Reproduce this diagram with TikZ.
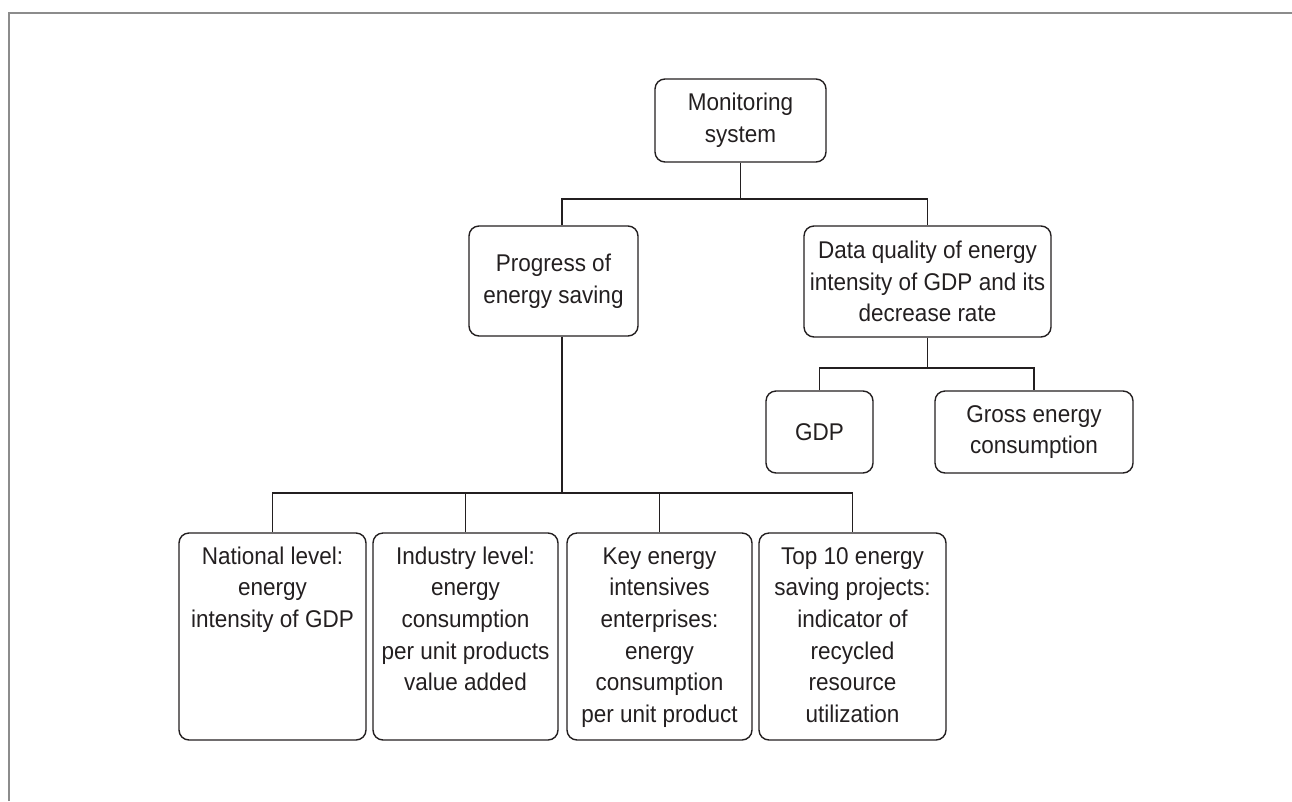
\documentclass[tikz,border=0pt]{standalone}
\usepackage{fontspec}
\setmainfont{Liberation Sans}[FakeStretch=0.93]
\usetikzlibrary{calc}
\definecolor{ink}{HTML}{231F20}
\definecolor{framegray}{HTML}{8C8C8C}
\newcommand\tallcell[1]{\parbox[c][207pt][t]{182pt}{\centering\rule{0pt}{31pt}#1}}
\begin{document}
\begin{tikzpicture}[x=1pt,y=-1pt,
  box/.style={draw=ink, line width=1.4pt, rounded corners=10pt, align=center,
    inner sep=0pt, font=\fontsize{24.2}{31.7}\selectfont, text=ink},
  link/.style={draw=ink, line width=1.4pt}]
\useasboundingbox (0,0) rectangle (1292,801);
\draw[framegray, line width=1.6pt] (9,801) -- (9,13) -- (1292,13);

\node[box, minimum width=171pt, minimum height=83pt] (mon) at (740.5,120.5) {Monitoring\\system};
\node[box, minimum width=169pt, minimum height=110pt] (prog) at (553.5,281) {Progress of\\energy saving};
\node[box, minimum width=247pt, minimum height=111pt] (dq) at (927.5,281.5) {Data quality of energy\\intensity of GDP and its\\decrease rate};
\node[box, minimum width=107pt, minimum height=82pt] (gdp) at (819.5,432) {GDP};
\node[box, minimum width=198pt, minimum height=82pt] (gross) at (1034,432) {Gross energy\\consumption};

\node[box, minimum width=187pt] (b1) at (272.5,636.5) {\tallcell{National level:\\energy\\intensity of GDP}};
\node[box, minimum width=185pt] (b2) at (465.5,636.5) {\tallcell{Industry level:\\energy\\consumption\\per unit products\\value added}};
\node[box, minimum width=185pt] (b3) at (659.5,636.5) {\tallcell{Key energy\\intensives\\enterprises:\\energy\\consumption\\per unit product}};
\node[box, minimum width=187pt] (b4) at (852.5,636.5) {\tallcell{Top 10 energy\\saving projects:\\indicator of\\recycled\\resource\\utilization}};

\coordinate (bar1) at (0,199);
\coordinate (bar2) at (0,493);
\coordinate (bar3) at (0,368);
\coordinate (pt) at ($(prog.north)+(8.5,0)$);
\coordinate (pb) at ($(prog.south)+(8.5,0)$);

\draw[link] (mon.south) -- (mon.south |- bar1);
\draw[link] (pt) -- (pt |- bar1) -- (dq.north |- bar1) -- (dq.north);

\draw[link] (pb) -- (pb |- bar2);
\draw[link] (b1.north) -- (b1.north |- bar2) -- (b4.north |- bar2) -- (b4.north);
\draw[link] (b2.north) -- (b2.north |- bar2);
\draw[link] (b3.north) -- (b3.north |- bar2);

\draw[link] (dq.south) -- (dq.south |- bar3);
\draw[link] (gdp.north) -- (gdp.north |- bar3) -- (gross.north |- bar3) -- (gross.north);
\end{tikzpicture}
\end{document}
